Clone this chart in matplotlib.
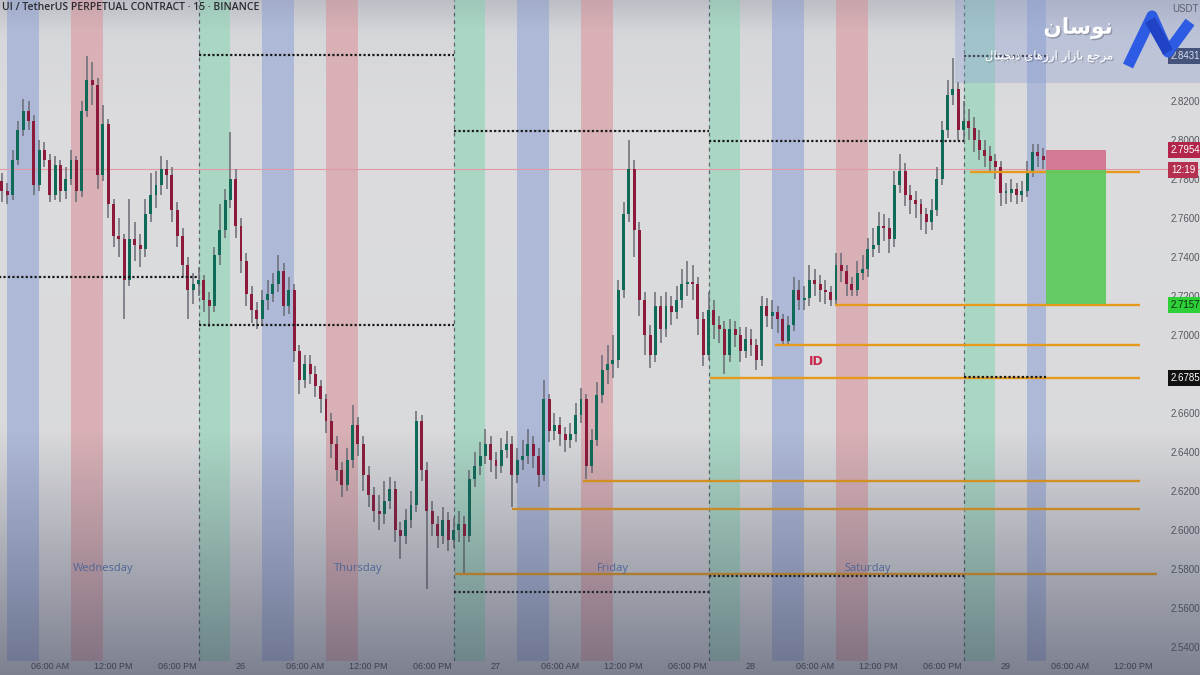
import matplotlib
matplotlib.use("Agg")
import matplotlib.pyplot as plt
import matplotlib.patheffects as pe
from matplotlib.patches import Rectangle
import numpy as np

# ---------------- data ----------------
title = "UI / TetherUS PERPETUAL CONTRACT · 15 · BINANCE"

# candles: one every 30 min, hours counted from the 25th 00:00
start_hour = 1.5
step_hours = 0.5
first_open = 2.779
closes = [
    2.774, 2.772, 2.790, 2.805, 2.815, 2.810, 2.777, 2.795, 2.790, 2.772,
    2.787, 2.774, 2.780, 2.790, 2.774, 2.815, 2.831, 2.828, 2.782, 2.808,
    2.767, 2.751, 2.749, 2.728, 2.749, 2.746, 2.744, 2.762, 2.772, 2.777,
    2.785, 2.782, 2.764, 2.751, 2.736, 2.723, 2.726, 2.728, 2.718, 2.715,
    2.741, 2.754, 2.769, 2.780, 2.756, 2.738, 2.721, 2.713, 2.708, 2.718,
    2.721, 2.726, 2.733, 2.715, 2.723, 2.692, 2.677, 2.685, 2.680, 2.674,
    2.667, 2.656, 2.644, 2.631, 2.623, 2.636, 2.654, 2.644, 2.628, 2.618,
    2.610, 2.608, 2.615, 2.621, 2.600, 2.597, 2.605, 2.613, 2.656, 2.631,
    2.610, 2.603, 2.597, 2.605, 2.595, 2.600, 2.603, 2.597, 2.626, 2.633,
    2.638, 2.644, 2.636, 2.633, 2.641, 2.644, 2.628, 2.636, 2.638, 2.644,
    2.638, 2.628, 2.667, 2.651, 2.654, 2.649, 2.646, 2.649, 2.659, 2.667,
    2.633, 2.646, 2.669, 2.682, 2.685, 2.687, 2.723, 2.762, 2.785, 2.754,
    2.718, 2.700, 2.690, 2.715, 2.703, 2.715, 2.712, 2.718, 2.726, 2.727,
    2.726, 2.708, 2.690, 2.713, 2.705, 2.703, 2.690, 2.703, 2.700, 2.692,
    2.698, 2.695, 2.687, 2.715, 2.710, 2.712, 2.708, 2.697, 2.705, 2.723,
    2.718, 2.719, 2.728, 2.726, 2.723, 2.722, 2.718, 2.736, 2.733, 2.726,
    2.723, 2.732, 2.734, 2.744, 2.746, 2.756, 2.755, 2.749, 2.777, 2.784,
    2.772, 2.769, 2.767, 2.762, 2.758, 2.764, 2.780, 2.805, 2.823, 2.826,
    2.805, 2.810, 2.806, 2.800, 2.795, 2.792, 2.789, 2.786, 2.773, 2.773,
    2.775, 2.772, 2.774, 2.784, 2.794, 2.792, 2.790]
highs = [
    2.783, 2.778, 2.795, 2.810, 2.821, 2.820, 2.813, 2.800, 2.799, 2.793,
    2.792, 2.790, 2.786, 2.795, 2.792, 2.820, 2.843, 2.840, 2.832, 2.818,
    2.811, 2.770, 2.760, 2.752, 2.770, 2.758, 2.752, 2.770, 2.783, 2.784,
    2.792, 2.790, 2.786, 2.768, 2.755, 2.740, 2.732, 2.735, 2.731, 2.722,
    2.745, 2.767, 2.775, 2.804, 2.785, 2.760, 2.742, 2.725, 2.717, 2.723,
    2.728, 2.732, 2.741, 2.737, 2.730, 2.726, 2.695, 2.690, 2.690, 2.684,
    2.677, 2.670, 2.660, 2.648, 2.635, 2.642, 2.664, 2.658, 2.648, 2.633,
    2.622, 2.618, 2.625, 2.627, 2.625, 2.604, 2.611, 2.620, 2.661, 2.659,
    2.635, 2.615, 2.607, 2.612, 2.609, 2.606, 2.610, 2.607, 2.631, 2.640,
    2.645, 2.652, 2.648, 2.640, 2.647, 2.651, 2.648, 2.642, 2.646, 2.652,
    2.648, 2.642, 2.677, 2.670, 2.660, 2.658, 2.653, 2.655, 2.665, 2.673,
    2.670, 2.652, 2.676, 2.690, 2.695, 2.700, 2.728, 2.768, 2.800, 2.790,
    2.758, 2.722, 2.705, 2.722, 2.720, 2.722, 2.720, 2.725, 2.734, 2.738,
    2.736, 2.730, 2.712, 2.722, 2.718, 2.710, 2.707, 2.708, 2.707, 2.704,
    2.704, 2.703, 2.698, 2.720, 2.719, 2.718, 2.715, 2.711, 2.710, 2.730,
    2.728, 2.725, 2.736, 2.734, 2.731, 2.728, 2.725, 2.742, 2.742, 2.736,
    2.730, 2.738, 2.741, 2.750, 2.755, 2.763, 2.762, 2.760, 2.784, 2.793,
    2.788, 2.777, 2.774, 2.770, 2.765, 2.770, 2.786, 2.810, 2.831, 2.842,
    2.830, 2.820, 2.816, 2.812, 2.805, 2.800, 2.797, 2.793, 2.789, 2.778,
    2.780, 2.778, 2.779, 2.789, 2.798, 2.798, 2.796]
lows = [
    2.768, 2.767, 2.769, 2.787, 2.802, 2.805, 2.772, 2.774, 2.786, 2.768,
    2.769, 2.768, 2.770, 2.777, 2.768, 2.771, 2.812, 2.818, 2.775, 2.779,
    2.760, 2.745, 2.740, 2.708, 2.725, 2.738, 2.735, 2.740, 2.758, 2.765,
    2.772, 2.775, 2.758, 2.745, 2.730, 2.708, 2.716, 2.720, 2.712, 2.704,
    2.712, 2.736, 2.750, 2.765, 2.750, 2.732, 2.715, 2.706, 2.703, 2.705,
    2.713, 2.717, 2.722, 2.710, 2.711, 2.686, 2.670, 2.673, 2.675, 2.668,
    2.660, 2.650, 2.637, 2.625, 2.617, 2.620, 2.632, 2.638, 2.620, 2.612,
    2.604, 2.600, 2.603, 2.611, 2.594, 2.585, 2.593, 2.601, 2.609, 2.625,
    2.570, 2.597, 2.591, 2.593, 2.589, 2.591, 2.594, 2.578, 2.594, 2.622,
    2.628, 2.634, 2.630, 2.626, 2.629, 2.637, 2.612, 2.624, 2.631, 2.634,
    2.632, 2.622, 2.625, 2.645, 2.646, 2.643, 2.640, 2.642, 2.645, 2.655,
    2.626, 2.629, 2.643, 2.665, 2.675, 2.678, 2.683, 2.719, 2.758, 2.740,
    2.710, 2.690, 2.683, 2.686, 2.696, 2.699, 2.705, 2.708, 2.714, 2.720,
    2.718, 2.700, 2.684, 2.687, 2.698, 2.696, 2.680, 2.686, 2.694, 2.686,
    2.688, 2.689, 2.682, 2.684, 2.704, 2.703, 2.701, 2.695, 2.695, 2.702,
    2.713, 2.713, 2.715, 2.720, 2.717, 2.716, 2.715, 2.716, 2.727, 2.720,
    2.720, 2.720, 2.728, 2.730, 2.740, 2.742, 2.748, 2.742, 2.745, 2.773,
    2.766, 2.762, 2.760, 2.754, 2.752, 2.754, 2.761, 2.777, 2.801, 2.818,
    2.800, 2.800, 2.800, 2.794, 2.790, 2.786, 2.783, 2.780, 2.766, 2.767,
    2.768, 2.767, 2.768, 2.771, 2.781, 2.786, 2.785]

# session highlight bands: (start hour of day, length, colour)
sessions = [(2, 3, "#aeb9d7"), (8, 3, "#d8b0b5"), (20, 3, "#aad6c4")]
session_lines = [20, 44, 68, 92]

# previous-day high / low (dotted): price, from hour, to hour
day_levels = [(2.7297, 0, 20), (2.8436, 20, 44), (2.7051, 20, 44),
              (2.8046, 44, 68), (2.5682, 44, 68), (2.7995, 68, 92),
              (2.5764, 68, 92), (2.8431, 92, 99.8), (2.6785, 92, 99.8)]

# orange liquidity levels: price, from hour, to hour
orange_levels = [(2.7836, 92.6, 108.6), (2.7154, 79.9, 108.6),
                 (2.6949, 74.3, 108.6), (2.6780, 68.1, 108.6),
                 (2.6251, 56.2, 108.6), (2.6108, 49.5, 108.6),
                 (2.5774, 44.1, 110.2)]

# short position tool
pos_start, pos_end = 99.8, 105.4
pos_entry, pos_stop, pos_target = 2.7846, 2.7949, 2.7157

day_names = ["Wednesday", "Thursday", "Friday", "Saturday"]
day_name_hours = [11, 35, 59, 83]

xtick_hours = [6, 12, 18, 24, 30, 36, 42, 48, 54, 60, 66, 72, 78, 84, 90, 96, 102, 108]
xtick_labels = ["06:00 AM", "12:00 PM", "06:00 PM", "26",
                "06:00 AM", "12:00 PM", "06:00 PM", "27",
                "06:00 AM", "12:00 PM", "06:00 PM", "28",
                "06:00 AM", "12:00 PM", "06:00 PM", "29",
                "06:00 AM", "12:00 PM"]
ytick_prices = [2.54, 2.56, 2.58, 2.60, 2.62, 2.64, 2.66, 2.70, 2.72, 2.74, 2.76, 2.78, 2.80, 2.82]

# tags on the price scale: text, price, background, text colour
price_tags = [("2.8431", 2.8431, "#1f2b4d", "white"),
              ("2.7954", 2.7949, "#b3244a", "white"),
              ("12:19", 2.7846, "#b5304f", "white"),
              ("2.7157", 2.7152, "#2fcf3a", "#0b2a0b"),
              ("2.6785", 2.6780, "#111111", "white")]

# ---------------- figure ----------------
W, H = 1200, 675
fig = plt.figure(figsize=(12, 6.75), dpi=100)

# background gradient
bg = fig.add_axes([0, 0, 1, 1], zorder=0)
rows = np.arange(H)
stops = [0, 40, 120, 400, 675]
cols = np.array([[0.80, 0.805, 0.825], [0.84, 0.845, 0.86], [0.862, 0.862, 0.87],
                 [0.855, 0.857, 0.865], [0.83, 0.835, 0.85]])
grad = np.stack([np.interp(rows, stops, cols[:, k]) for k in range(3)], axis=1)
bg.imshow(grad[:, None, :], aspect="auto", extent=[0, W, H, 0])
bg.set_xlim(0, W); bg.set_ylim(H, 0); bg.axis("off")

# main chart axes (pixel rows 0..661)
ax_bottom = 14
ax = fig.add_axes([0, ax_bottom / H, 1, (H - ax_bottom) / H], zorder=1)
ax.patch.set_alpha(0)
px_per_hour = 255 / 24
ax.set_xlim(14 / px_per_hour, (W + 14) / px_per_hour)
ax.set_ylim(2.8718 - (H - ax_bottom) / 1950, 2.8718)
for s in ax.spines.values():
    s.set_visible(False)

last_hour = start_hour + step_hours * (len(closes) - 1) + 0.3
for day in range(5):
    for start, length, colr in sessions:
        a = day * 24 + start
        b = min(a + length, last_hour)
        if a < last_hour:
            ax.axvspan(a, b, color=colr, lw=0, zorder=0.5)
for h in session_lines:
    ax.axvline(h, color="#5c6270", lw=0.9, ls=(0, (3, 3)), zorder=1)

# thin price line
ax.axhline(2.7851, color="#e39aa6", lw=0.8, zorder=1)

# candles
t = start_hour + step_hours * np.arange(len(closes))
c = np.array(closes)
o = np.concatenate([[first_open], c[:-1]])
hi = np.maximum(np.array(highs), np.maximum(o, c))
lo = np.minimum(np.array(lows), np.minimum(o, c))
up = c >= o
ax.vlines(t, lo, hi, color="#6a6c74", lw=1.1, zorder=3)
ax.bar(t, np.maximum(np.abs(c - o), 0.0006), bottom=np.minimum(o, c), width=0.28,
       color=np.where(up, "#0f6b58", "#8c1b3b"), linewidth=0, zorder=3.5)

for price, a, b in orange_levels:
    ax.plot([a, b], [price, price], color="#e59a1e", lw=1.7, zorder=4,
            solid_capstyle="butt", clip_on=False)
for price, a, b in day_levels:
    ax.plot([a, b], [price, price], color="#1a1a1a", lw=1.6, ls=(0, (1, 1)), zorder=4.5)

# position tool
ax.add_patch(Rectangle((pos_start, pos_entry), pos_end - pos_start, pos_stop - pos_entry,
                       color="#d26a87", alpha=0.85, lw=0, zorder=4))
ax.add_patch(Rectangle((pos_start, pos_target), pos_end - pos_start, pos_entry - pos_target,
                       color="#5fca5c", alpha=0.95, lw=0, zorder=4))

ax.text(77.4, 2.6862, "ID", color="#c8264d", fontsize=9, fontweight="bold",
        ha="left", va="center", zorder=5)
for name, hh in zip(day_names, day_name_hours):
    ax.text(hh, 2.5805, name, color="#5a78b2", fontsize=8, ha="center", va="center",
            family=["Open Sans", "DejaVu Sans"], zorder=5)

# axes ticks
narrow = ["Liberation Sans Narrow", "Liberation Sans", "DejaVu Sans"]
ax.set_xticks(xtick_hours)
ax.set_xticklabels(xtick_labels, family=narrow)
ax.tick_params(axis="x", length=0, pad=1, labelsize=6.5, labelcolor="#3f4352")
ax.yaxis.tick_right()
ax.set_yticks(ytick_prices)
ax.set_yticklabels([f"{p:.4f}" for p in ytick_prices], family=narrow)
ax.tick_params(axis="y", length=0, direction="in", pad=-21.5, labelsize=7,
               labelcolor="#555861")

ytr = ax.get_yaxis_transform()
for txt, price, fc, tc in price_tags:
    ax.text(1171 / W, price, txt, transform=ytr, ha="left", va="center", fontsize=7,
            color=tc, family=narrow, zorder=6, clip_on=False,
            bbox=dict(boxstyle="square,pad=0.3", fc=fc, ec="none"))

# overlay: bottom darkening, top-right tint, branding
ov = fig.add_axes([0, 0, 1, 1], zorder=2)
alpha = np.interp(rows, [0, 30, 430, 530, 675], [0.10, 0.0, 0.0, 0.22, 0.56])
shade = np.zeros((H, 1, 4))
shade[:, 0, :3] = [0.22, 0.24, 0.34]
shade[:, 0, 3] = alpha
ov.imshow(shade, aspect="auto", extent=[0, W, H, 0])
ov.add_patch(Rectangle((955, 0), W - 955, 83, color="#8e9fd3", alpha=0.35, lw=0))
ov.set_xlim(0, W); ov.set_ylim(H, 0); ov.axis("off")

ov.text(2, 7, title, ha="left", va="center", fontsize=7.5, color="#2b2d33",
        family=["Open Sans", "DejaVu Sans"], fontweight="semibold")
ov.text(1172, 9, "USDT", ha="left", va="center", fontsize=7, color="#5d6070", family=narrow)

# Persian branding, written in visual order with presentation forms
brand = "\uFEE5\uFE8E\uFEB3\uFEEE\uFEE7"
tagline = ("\uFEDD\uFE8E\uFE98\uFEF4\uFEA0\uFEF3\uFEA9 "
           "\uFEEF\uFE8E\uFEEB\uFEAF\uFEAD\uFE8D "
           "\uFEAD\uFE8D\uFEAF\uFE8E\uFE91 "
           "\uFECA\uFE9F\uFEAE\uFEE3")
shadow = [pe.withSimplePatchShadow(offset=(1, -1), shadow_rgbFace="#404555", alpha=0.35)]
ov.text(1078, 28, brand, ha="center", va="center", fontsize=15.5, color="white",
        fontweight="bold", family=["DejaVu Sans"], path_effects=shadow)
ov.text(1049, 56, tagline, ha="center", va="center", fontsize=8.5, color="white",
        family=["DejaVu Sans"], path_effects=shadow)
ov.plot([1128, 1152, 1168, 1190], [66, 16, 52, 22], color="#2d5be3", lw=8,
        solid_joinstyle="round", solid_capstyle="butt")
ov.plot([1150, 1168], [20, 52], color="#1f43c4", lw=8, solid_capstyle="butt")

fig.savefig("out.png", dpi=100)
